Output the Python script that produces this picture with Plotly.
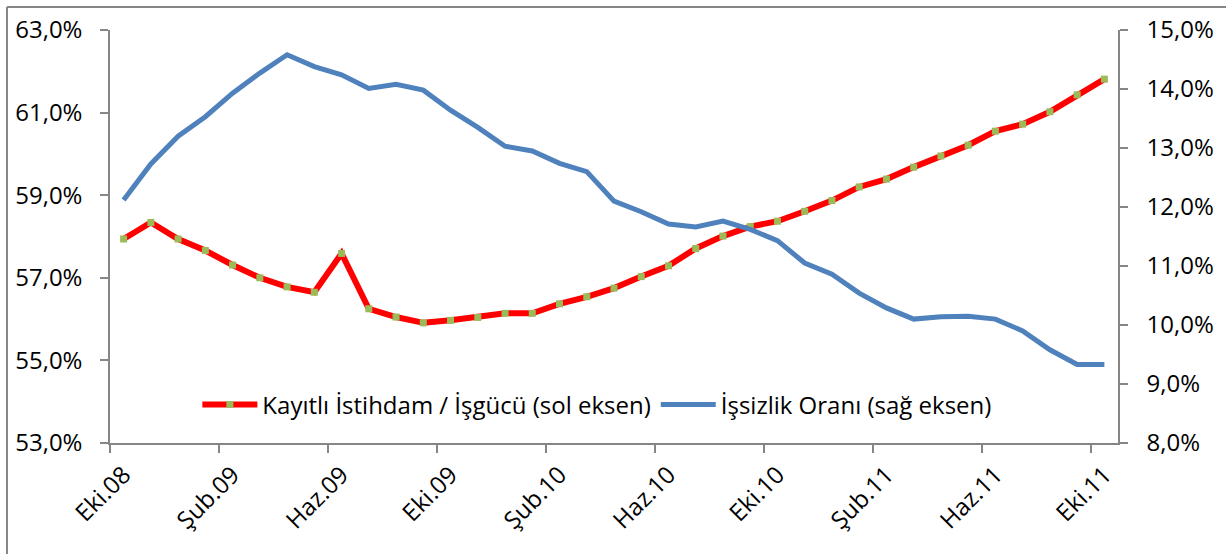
import plotly.graph_objects as go

months = ["Eki.08", "Kas.08", "Ara.08", "Oca.09", "Şub.09", "Mar.09", "Nis.09", "May.09",
          "Haz.09", "Tem.09", "Ağu.09", "Eyl.09", "Eki.09", "Kas.09", "Ara.09", "Oca.10",
          "Şub.10", "Mar.10", "Nis.10", "May.10", "Haz.10", "Tem.10", "Ağu.10", "Eyl.10",
          "Eki.10", "Kas.10", "Ara.10", "Oca.11", "Şub.11", "Mar.11", "Nis.11", "May.11",
          "Haz.11", "Tem.11", "Ağu.11", "Eyl.11", "Eki.11"]

kayitli_istihdam = [57.94, 58.34, 57.94, 57.66, 57.31, 57.00, 56.78, 56.65, 57.59, 56.25,
                    56.05, 55.91, 55.97, 56.04, 56.14, 56.14, 56.37, 56.54, 56.75, 57.03,
                    57.29, 57.71, 58.01, 58.24, 58.37, 58.61, 58.87, 59.20, 59.39, 59.68,
                    59.95, 60.21, 60.55, 60.72, 61.02, 61.43, 61.81]

issizlik = [12.12, 12.73, 13.20, 13.53, 13.93, 14.27, 14.58, 14.38, 14.24, 14.01,
            14.08, 13.98, 13.64, 13.35, 13.03, 12.95, 12.74, 12.60, 12.10, 11.92,
            11.71, 11.66, 11.76, 11.62, 11.43, 11.05, 10.86, 10.54, 10.29, 10.10,
            10.14, 10.15, 10.10, 9.90, 9.58, 9.33, 9.33]

label_step = 4
xi = list(range(len(months)))
label_pos = xi[::label_step]
label_text = months[::label_step]
boundary_pos = [p - 0.5 for p in label_pos]

FONT = "Open Sans"
AXIS_COLOR = "#868686"
TICK_SIZE = 24

fig = go.Figure()
fig.add_trace(go.Scatter(
    x=xi, y=kayitli_istihdam, name="Kayıtlı İstihdam / İşgücü (sol eksen)",
    mode="lines+markers",
    line=dict(color="#FF0000", width=6),
    marker=dict(symbol="square", size=7, color="#9BBB59"),
    yaxis="y", xaxis="x",
))
fig.add_trace(go.Scatter(
    x=xi, y=issizlik, name="İşsizlik Oranı (sağ eksen)",
    mode="lines",
    line=dict(color="#4F81BD", width=5),
    yaxis="y2", xaxis="x2",
))

xrange = [-0.5, len(months) - 0.5]

fig.update_layout(
    width=1226, height=554,
    margin=dict(l=110, r=108, t=30, b=111),
    paper_bgcolor="white", plot_bgcolor="white",
    separators=",.",
    font=dict(family=FONT, size=TICK_SIZE, color="black"),
    showlegend=True,
    legend=dict(orientation="h", x=0.483, y=0.092, xanchor="center", yanchor="middle",
                bgcolor="rgba(0,0,0,0)", font=dict(size=24), itemwidth=55,
                traceorder="normal"),
    xaxis=dict(range=xrange, tickmode="array", tickvals=boundary_pos,
               showticklabels=False, ticks="outside", ticklen=8, tickcolor=AXIS_COLOR,
               tickwidth=1.5, showline=True, linecolor=AXIS_COLOR, linewidth=1.5,
               showgrid=False, zeroline=False),
    xaxis2=dict(range=xrange, overlaying="x", side="bottom", tickmode="array",
                tickvals=label_pos, ticktext=label_text, tickangle=-45,
                ticks="", showline=False, showgrid=False, zeroline=False,
                ticklabelstandoff=12, tickfont=dict(size=TICK_SIZE)),
    yaxis=dict(range=[53, 63], dtick=2, tick0=53, tickformat=".1f", ticksuffix="%",
               ticks="outside", ticklen=8, tickcolor=AXIS_COLOR, tickwidth=1.5,
               showline=True, linecolor=AXIS_COLOR, linewidth=1.5,
               showgrid=False, zeroline=False, ticklabelstandoff=13),
    yaxis2=dict(range=[8, 15], dtick=1, tick0=8, tickformat=".1f", ticksuffix="%",
                overlaying="y", side="right",
                ticks="outside", ticklen=8, tickcolor=AXIS_COLOR, tickwidth=1.5,
                showline=True, linecolor=AXIS_COLOR, linewidth=1.5,
                showgrid=False, zeroline=False, ticklabelstandoff=14),
)

# outer chart border (only left and top edges visible in the reference crop)
fig.add_shape(type="line", xref="paper", yref="paper", x0=-0.1022, x1=-0.1022,
              y0=-0.3, y1=1.0557, line=dict(color=AXIS_COLOR, width=2))
fig.add_shape(type="line", xref="paper", yref="paper", x0=-0.1022, x1=1.2,
              y0=1.0557, y1=1.0557, line=dict(color=AXIS_COLOR, width=2))

fig.write_html("out.html", config={"displayModeBar": False},
               post_script="document.body.style.margin='0';")
